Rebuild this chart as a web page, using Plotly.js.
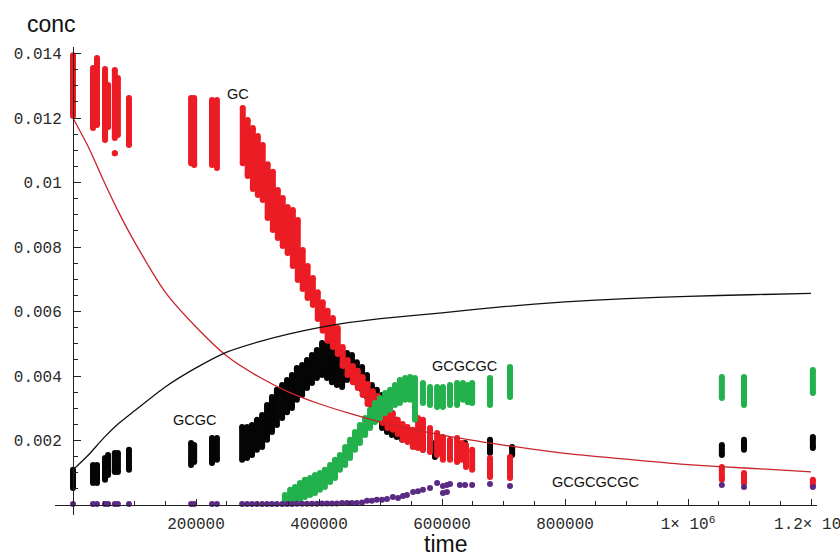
<!DOCTYPE html>
<html>
<head>
<meta charset="utf-8">
<script src="https://cdn.plot.ly/plotly-3.0.1.min.js"></script>
<style>html,body{margin:0;padding:0;background:#fff;}#chart{width:840px;height:556px;}</style>
</head>
<body>
<div id="chart"></div>
<script>
// ---- GC (red) measured columns: time, low conc, high conc ----
const gcX  = [0,32500,39000,52000,57000,68000,68000,73000,91000,192000,197000,226000,234000,
  276000,284000,292500,300500,308500,316500,325000,333000,341000,349000,357500,365500,373500,381500,390000,398000,406000,414000,422500,430500,438500,446500,455000,463000,471000,479000,487500,495500,503500,511500,520000,528000,536000,544000,552500,
  561000,569000,580500,592000,601500,613000,624500,632500,639000,649000,678000,710500,1055000,1091000,1203000];
const gcLo = [0.01206,0.01169,0.01178,0.01132,0.01172,0.01138,0.01091,0.01147,0.01116,0.01060,0.01054,0.01054,0.01045,
  0.01060,0.01020,0.00980,0.00961,0.00946,0.00890,0.00853,0.00828,0.00803,0.00781,0.00741,0.00698,0.00670,0.00642,0.00620,0.00577,0.00540,0.00509,0.00490,0.00468,0.00431,0.00403,0.00381,0.00363,0.00341,0.00313,0.00291,0.00270,0.00254,0.00239,0.00233,0.00220,0.00202,0.00195,0.00180,
  0.00177,0.00171,0.00164,0.00155,0.00140,0.00140,0.00133,0.00140,0.00118,0.00109,0.00087,0.00084,0.00078,0.00068,0.00059];
const gcHi = [0.01395,0.01355,0.01386,0.01352,0.01302,0.01349,0.01091,0.01324,0.01262,0.01262,0.01262,0.01256,0.01256,
  0.01231,0.01194,0.01169,0.01144,0.01116,0.01057,0.01033,0.00977,0.00952,0.00924,0.00915,0.00884,0.00791,0.00741,0.00704,0.00660,0.00629,0.00602,0.00580,0.00549,0.00490,0.00450,0.00431,0.00416,0.00397,0.00375,0.00353,0.00338,0.00322,0.00307,0.00285,0.00264,0.00251,0.00242,0.00233,
  0.00270,0.00264,0.00239,0.00223,0.00211,0.00202,0.00208,0.00192,0.00186,0.00171,0.00146,0.00149,0.00118,0.00099,0.00078];

// ---- GCGC (black) measured columns ----
const gcgcX  = [0,32500,39000,52000,57000,68000,73000,91000,192000,197000,226000,234000,
  275000,283000,291000,299000,307500,315500,323500,331500,340000,348000,356000,364000,372500,380500,388500,396500,405000,413000,421000,429000,437500,445500,453500,461500,470000,478000,486000,494000,502500,510500,518500,526500,535000,543000,
  559000,569000,588500,613000,637500,678000,714000,1055000,1091000,1203000];
const gcgcLo = [0.00053,0.00068,0.00068,0.00078,0.00093,0.00102,0.00102,0.00109,0.00124,0.00133,0.00130,0.00140,
  0.00140,0.00146,0.00155,0.00171,0.00180,0.00202,0.00226,0.00248,0.00270,0.00288,0.00301,0.00326,0.00341,0.00363,0.00378,0.00394,0.00403,0.00394,0.00381,0.00372,0.00366,0.00388,0.00394,0.00378,0.00357,0.00335,0.00295,0.00264,0.00239,0.00226,0.00217,0.00211,0.00202,0.00202,
  0.00180,0.00171,0.00149,0.00146,0.00149,0.00161,0.00155,0.00155,0.00171,0.00177];
const gcgcHi = [0.00109,0.00124,0.00124,0.00146,0.00155,0.00161,0.00161,0.00171,0.00192,0.00186,0.00208,0.00208,
  0.00242,0.00242,0.00248,0.00264,0.00279,0.00310,0.00335,0.00357,0.00372,0.00388,0.00403,0.00425,0.00434,0.00450,0.00465,0.00481,0.00502,0.00496,0.00487,0.00474,0.00465,0.00471,0.00465,0.00443,0.00428,0.00403,0.00372,0.00357,0.00341,0.00310,0.00279,0.00264,0.00248,0.00233,
  0.00223,0.00217,0.00192,0.00192,0.00192,0.00202,0.00180,0.00186,0.00202,0.00211];

// ---- GCGCGC (green) measured columns ----
const gcgcgcX  = [344500,353000,361000,369000,377000,385500,393500,401500,409500,418000,426000,434000,442500,450500,458500,466500,475000,483000,491000,499000,507500,515500,523500,531500,540000,548000,556000,
  569000,580500,592000,601500,613000,624500,634000,642000,649000,678000,710500,1055000,1091000,1203000];
const gcgcgcLo = [0.00006,0.00009,0.00016,0.00016,0.00025,0.00031,0.00037,0.00047,0.00056,0.00071,0.00084,0.00109,0.00124,0.00146,0.00171,0.00192,0.00217,0.00239,0.00257,0.00270,0.00285,0.00295,0.00310,0.00316,0.00326,0.00326,0.00264,
  0.00316,0.00310,0.00304,0.00304,0.00310,0.00310,0.00326,0.00319,0.00316,0.00310,0.00335,0.00332,0.00310,0.00347];
const gcgcgcHi = [0.00031,0.00047,0.00056,0.00068,0.00078,0.00084,0.00093,0.00099,0.00109,0.00124,0.00140,0.00155,0.00180,0.00202,0.00226,0.00248,0.00270,0.00295,0.00316,0.00332,0.00347,0.00357,0.00372,0.00388,0.00394,0.00397,0.00394,
  0.00378,0.00366,0.00366,0.00366,0.00372,0.00378,0.00378,0.00372,0.00378,0.00394,0.00428,0.00397,0.00397,0.00419];

// ---- GCGCGCGC (purple) measured points ----
const gcgcgcgcX = [0,32500,39000,52000,57000,68000,73000,91000,192000,197000,226000,234000,
  275000,283000,291000,299000,307500,315500,323500,331500,340000,348000,356000,364000,372500,380500,388500,396500,405000,413000,421000,429000,437500,445500,453500,461500,470000,
  478000,486000,494000,502500,510500,520000,528500,536500,543000,553000,561000,569000,580500,592000,601500,601500,608000,608000,613000,629000,637500,649000,678000,710500,1055000,1091000,1203000];
const gcgcgcgcY = [0.00003,0.00003,0.00003,0.00003,0.00003,0.00003,0.00003,0.00003,0.00003,0.00003,0.00003,0.00003,
  0.00003,0.00003,0.00003,0.00003,0.00003,0.00003,0.00003,0.00003,0.00003,0.00003,0.00003,0.00004,0.00004,0.00004,0.00004,0.00004,0.00005,0.00005,0.00005,0.00005,0.00006,0.00006,0.00006,0.00006,0.00008,
  0.00013,0.00013,0.00016,0.00016,0.00019,0.00025,0.00022,0.00028,0.00031,0.00040,0.00043,0.00047,0.00053,0.00068,0.00059,0.00037,0.00062,0.00040,0.00065,0.00062,0.00062,0.00062,0.00065,0.00059,0.00062,0.00056,0.00056];

// ---- model curves ----
const curveX      = [0,25000,50000,75000,100000,150000,200000,250000,300000,350000,400000,450000,500000,600000,700000,800000,900000,1000000,1100000,1200000];
const gcCurveY    = [0.01200,0.01110,0.01005,0.00905,0.00816,0.00660,0.00552,0.00462,0.00400,0.00351,0.00314,0.00284,0.00257,0.00217,0.00186,0.00160,0.00142,0.00125,0.00114,0.00103];
const gcgcCurveY  = [0.00109,0.00155,0.00208,0.00254,0.00292,0.00366,0.00425,0.00474,0.00505,0.00530,0.00550,0.00566,0.00578,0.00596,0.00615,0.00630,0.00640,0.00647,0.00652,0.00656];

// ---- ticks & labels ----
const xTickVals = [200000,400000,600000,800000,1000000,1200000];
const xTickText = ['200000','400000','600000','800000','1\u00d7 10<sup>6</sup>','1.2\u00d7 10<sup>6</sup>'];
const yTickVals = [0.002,0.004,0.006,0.008,0.010,0.012,0.014];
const yTickText = ['0.002','0.004','0.006','0.008','0.01','0.012','0.014'];
const seriesLabels = ['GC','GCGC','GCGCGC','GCGCGCGC'];
const labelX = [267500,198400,636600,848800];
const labelY = [0.01273,0.00264,0.00431,0.00071];

function columns(xs, lo, hi, color, name) {
  const x = [], y = [];
  xs.forEach((v, i) => { x.push(v, v, null); y.push(lo[i], hi[i], null); });
  return {type:'scatter', mode:'lines+markers', x:x, y:y, name:name,
    line:{color:color, width:6}, marker:{color:color, size:6},
    connectgaps:false, hoverinfo:'skip', cliponaxis:false, showlegend:false};
}

const RED = '#ec1c24', GREEN = '#22b14c', BLACK = '#050505', PURPLE = '#5b2a84';

const traces = [
  columns(gcgcX, gcgcLo, gcgcHi, BLACK, 'GCGC'),
  columns(gcX, gcLo, gcHi, RED, 'GC'),
  columns(gcgcgcX, gcgcgcLo, gcgcgcHi, GREEN, 'GCGCGC'),
  {type:'scatter', mode:'markers', x:gcgcgcgcX, y:gcgcgcgcY, name:'GCGCGCGC',
    marker:{color:PURPLE, size:6}, cliponaxis:false, showlegend:false, hoverinfo:'skip'},
  {type:'scatter', mode:'lines', x:curveX, y:gcCurveY, name:'GC model',
    line:{color:'#c8242a', width:1.3, shape:'spline', smoothing:0.6}, showlegend:false, hoverinfo:'skip'},
  {type:'scatter', mode:'lines', x:curveX, y:gcgcCurveY, name:'GCGC model',
    line:{color:'#111111', width:1.3, shape:'spline', smoothing:0.6}, showlegend:false, hoverinfo:'skip'}
];

const annotations = seriesLabels.map((t, i) => ({
  text:t, x:labelX[i], y:labelY[i], xref:'x', yref:'y', showarrow:false,
  xanchor:'center', yanchor:'middle', font:{family:'Liberation Sans, Arial, sans-serif', size:14.5, color:'#111'}
}));
annotations.push({text:'conc', xref:'paper', yref:'paper', x:-0.005, y:1.049, showarrow:false,
  xanchor:'center', yanchor:'middle', font:{family:'Liberation Sans, Arial, sans-serif', size:23, color:'#111'}});
annotations.push({text:'time', xref:'paper', yref:'paper', x:0.512, y:-0.061, showarrow:false,
  xanchor:'center', yanchor:'middle', font:{family:'Liberation Sans, Arial, sans-serif', size:23, color:'#111'}});

const tickFont = {family:'Liberation Mono, Courier New, monospace', size:16, color:'#2a2a2a'};

const layout = {
  width:840, height:556, autosize:false,
  margin:{l:55, r:23, t:47, b:41, pad:0},
  paper_bgcolor:'#ffffff', plot_bgcolor:'#ffffff',
  showlegend:false,
  xaxis:{range:[-29268,1209700], anchor:'free', position:0.02137,
    showline:true, linecolor:'#222', linewidth:1.2, showgrid:false, zeroline:false,
    tickmode:'array', tickvals:xTickVals, ticktext:xTickText,
    ticks:'inside', ticklen:6, tickwidth:1, tickcolor:'#222', ticklabelstandoff:4,
    ticklabeloverflow:'allow',
    tickfont:tickFont,
    minor:{tickmode:'linear', tick0:0, dtick:50000, ticks:'inside', ticklen:4, tickcolor:'#222', tickwidth:1, showgrid:false}},
  yaxis:{range:[-0.00031,0.014202], anchor:'free', position:0.02362,
    showline:true, linecolor:'#222', linewidth:1.2, showgrid:false, zeroline:false,
    tickmode:'array', tickvals:yTickVals, ticktext:yTickText,
    ticks:'inside', ticklen:7, tickwidth:1, tickcolor:'#222', ticklabelstandoff:8,
    ticklabeloverflow:'allow',
    tickfont:tickFont,
    minor:{tickmode:'linear', tick0:0, dtick:0.0005, ticks:'inside', ticklen:4, tickcolor:'#222', tickwidth:1, showgrid:false}},
  annotations:annotations
};

Plotly.newPlot('chart', traces, layout, {staticPlot:true, displayModeBar:false});
</script>
</body>
</html>
